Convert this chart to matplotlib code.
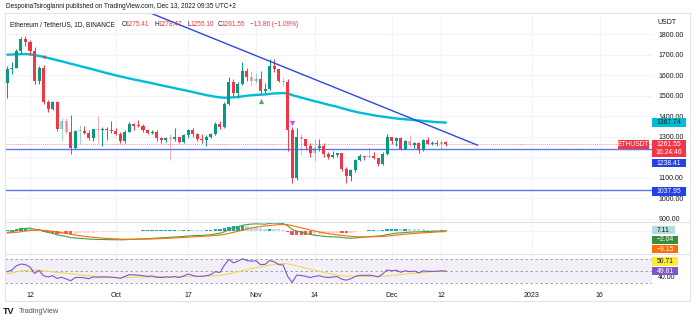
import matplotlib
matplotlib.use('Agg')
import matplotlib.pyplot as plt
import matplotlib.dates as mdates
from matplotlib.patches import Rectangle
import pandas as pd

plt.rcParams['font.family'] = ['Liberation Sans', 'DejaVu Sans']
plt.rcParams['axes.unicode_minus'] = True

# ---------------- data ----------------
dates = pd.date_range('2022-09-07', '2022-12-13', freq='D')
opens = [1562, 1629, 1635, 1718, 1775, 1762, 1715, 1572, 1636, 1470, 1432, 1470, 1335, 1377, 1324, 1245, 1327, 1328, 1317, 1294,
         1335, 1330, 1336, 1334, 1327, 1311, 1276, 1323, 1362, 1352, 1351, 1332, 1316, 1322, 1291, 1281, 1294, 1288, 1296, 1275,
         1306, 1332, 1311, 1286, 1283, 1299, 1314, 1363, 1345, 1458, 1567, 1514, 1555, 1618, 1588, 1573, 1579, 1521, 1531, 1645,
         1627, 1572, 1568, 1333, 1100, 1299, 1287, 1256, 1219, 1242, 1253, 1216, 1201, 1211, 1218, 1141, 1108, 1135, 1183, 1203,
         1199, 1206, 1194, 1166, 1217, 1296, 1276, 1293, 1241, 1280, 1258, 1270, 1232, 1281, 1264, 1266, 1263, 1275.41]
highs = [1645, 1662, 1725, 1785, 1790, 1770, 1735, 1645, 1650, 1480, 1475, 1472, 1390, 1390, 1403, 1330, 1355, 1350, 1330, 1338,
         1400, 1348, 1345, 1375, 1340, 1320, 1330, 1370, 1366, 1380, 1360, 1338, 1330, 1330, 1300, 1300, 1310, 1340, 1300, 1310,
         1338, 1340, 1315, 1310, 1305, 1317, 1370, 1375, 1470, 1590, 1580, 1565, 1665, 1635, 1620, 1610, 1620, 1560, 1680, 1680,
         1630, 1590, 1580, 1345, 1340, 1310, 1290, 1270, 1290, 1290, 1270, 1225, 1230, 1222, 1222, 1150, 1140, 1190, 1215, 1205,
         1250, 1225, 1195, 1225, 1310, 1300, 1298, 1300, 1285, 1305, 1275, 1275, 1290, 1300, 1280, 1285, 1282, 1278.47]
lows = [1490, 1605, 1632, 1705, 1740, 1700, 1556, 1555, 1460, 1420, 1428, 1328, 1280, 1310, 1216, 1240, 1265, 1310, 1285, 1280,
        1270, 1255, 1285, 1315, 1305, 1268, 1270, 1320, 1330, 1345, 1320, 1310, 1310, 1280, 1266, 1275, 1187, 1280, 1270, 1270,
        1295, 1300, 1280, 1270, 1255, 1295, 1305, 1335, 1340, 1455, 1500, 1490, 1550, 1570, 1550, 1560, 1505, 1510, 1528, 1615,
        1565, 1545, 1230, 1073, 1090, 1210, 1235, 1200, 1180, 1230, 1200, 1190, 1195, 1200, 1130, 1075, 1082, 1125, 1180, 1185,
        1195, 1190, 1155, 1160, 1212, 1265, 1256, 1236, 1238, 1250, 1245, 1220, 1228, 1262, 1260, 1255, 1240, 1255.10]
closes = [1629, 1635, 1718, 1775, 1762, 1715, 1572, 1636, 1470, 1432, 1470, 1335, 1377, 1324, 1245, 1327, 1328, 1317, 1294, 1335,
          1330, 1336, 1334, 1327, 1311, 1276, 1323, 1362, 1352, 1351, 1332, 1316, 1322, 1291, 1281, 1294, 1288, 1296, 1275, 1306,
          1332, 1311, 1286, 1283, 1299, 1314, 1363, 1345, 1458, 1567, 1514, 1555, 1618, 1588, 1573, 1579, 1521, 1531, 1645, 1627,
          1572, 1568, 1333, 1100, 1299, 1287, 1256, 1219, 1242, 1253, 1216, 1201, 1211, 1218, 1141, 1108, 1135, 1183, 1203, 1199,
          1206, 1194, 1166, 1217, 1296, 1276, 1293, 1241, 1280, 1258, 1270, 1232, 1281, 1264, 1266, 1263, 1275, 1261.55]
faded_dates = ['2022-09-19', '2022-09-20', '2022-09-23', '2022-09-27', '2022-10-13', '2022-10-31', '2022-11-01',
               '2022-11-07', '2022-11-11', '2022-11-14', '2022-11-26', '2022-12-05', '2022-12-12']

ma_values = [1699, 1700, 1701, 1702, 1702, 1701, 1697, 1693, 1688, 1683, 1678, 1672, 1667, 1661, 1655, 1650, 1644, 1638, 1633, 1627,
             1621, 1615, 1609, 1604, 1598, 1593, 1588, 1583, 1578, 1574, 1569, 1565, 1560, 1555, 1550, 1545, 1541, 1536, 1531, 1527,
             1522, 1517, 1512, 1507, 1502, 1498, 1494, 1491, 1489, 1490, 1491, 1493, 1496, 1499, 1501, 1503, 1504, 1505, 1508, 1510,
             1511, 1512, 1510, 1502, 1496, 1490, 1484, 1478, 1472, 1467, 1461, 1455, 1450, 1445, 1438, 1432, 1426, 1421, 1416, 1412,
             1408, 1404, 1400, 1397, 1394, 1391, 1388, 1386, 1384, 1382, 1380, 1378, 1376, 1374, 1372, 1370, 1369, 1367.74]

macd_line = [-20, -10, 0, 15, 25, 28, 15, 10, -5, -20, -28, -45, -52, -62, -75, -78, -82, -86, -90, -92,
             -94, -95, -96, -97, -97, -98, -97, -94, -92, -90, -88, -86, -84, -80, -77, -74, -71, -68, -66, -62,
             -57, -54, -52, -50, -47, -44, -35, -28, -12, 12, 28, 42, 58, 66, 71, 74, 72, 70, 78, 82,
             80, 77, 53, 13, -3, -16, -28, -41, -49, -54, -60, -65, -67, -67, -73, -79, -81, -78, -73, -69,
             -64, -60, -59, -53, -42, -34, -26, -24, -19, -16, -13, -13, -10, -8, -6.5, -5.5, -3.5, -2.04]
signal_line = [-25, -22, -17.6, -11.1, -3.9, 2.5, 5, 6, 3.8, -1, -6.4, -14.1, -21.7, -29.8, -38.8, -46.6, -53.7, -60.2, -66.2, -71.3,
               -75.8, -79.6, -82.9, -85.7, -88, -90, -91.4, -91.9, -91.9, -91.5, -90.8, -89.8, -88.6, -86.9, -84.9, -82.7, -80.4, -77.9, -75.5, -72.8,
               -69.6, -66.5, -63.6, -60.9, -58.1, -55.3, -51.2, -46.6, -39.7, -29.4, -17.9, -5.9, 6.9, 18.7, 29.2, 38.2, 45, 50, 55.6, 60.9,
               64.7, 67.2, 64.4, 54.1, 42.7, 31, 19.2, 7.2, -4, -14, -23.2, -31.6, -38.7, -44.4, -50.1, -55.9, -60.9, -64.3, -66, -66.6,
               -66.1, -64.9, -63.7, -61.6, -57.7, -53, -47.6, -42.9, -38.1, -33.7, -29.6, -26.3, -23, -20, -17.3, -13.5, -11.5, -9.15]

rsi_values = [49, 52, 59, 62, 61, 57, 46, 51, 42, 40, 42, 37.5, 39.5, 36.5, 33.5, 39, 39, 38.5, 37, 40,
              39.5, 40, 40, 39.5, 39, 37.5, 41, 44, 43.5, 43, 42, 41, 41.5, 39.5, 39, 40, 39.5, 40.5, 39, 41.5,
              45, 42.5, 41, 41, 42, 44, 49, 47.5, 60, 70, 64, 67, 71, 68, 67, 67.5, 61, 61.5, 68, 66,
              61, 60.5, 41, 30.5, 43, 42.5, 41, 39, 41, 42, 40, 39, 40, 40.5, 36, 34.5, 37, 41, 43, 42.5,
              43, 42, 40, 45, 52, 50.5, 51.5, 48, 50.5, 49, 50, 47, 50.5, 49.5, 49.5, 49.5, 50.5, 49.81]
rsi_ma = [46, 47, 48.5, 50, 51, 52, 51.5, 51.5, 50.5, 49.5, 48.5, 47.5, 47, 46, 45.5, 44.5, 43.5, 42.5, 42, 41.5,
          41, 40, 39.5, 39.3, 39, 38.8, 39, 39.3, 39.6, 39.8, 40, 40, 40.2, 40.4, 40.5, 40.5, 40.6, 40.8, 40.8, 40.8,
          41, 41, 41, 41, 41.2, 41.5, 42, 42.5, 43.8, 45.5, 47, 48.8, 50.8, 52.6, 54.3, 56, 57.3, 58.6, 60.2, 61.7,
          62.7, 63, 62.3, 60.5, 59, 57, 55, 53, 51.5, 49.5, 47.5, 46, 44.5, 43, 42, 41.3, 41.3, 41, 40.8, 40.7,
          40.8, 40.8, 40.8, 41, 41.8, 42.5, 43.3, 44, 44.8, 45.6, 46.3, 46.8, 47.5, 48.3, 48.9, 49.5, 50.2, 50.71]

trend_dates = ['2022-10-08', '2022-12-20']
trend_prices = [1908, 1258]
support_levels = [1238.41, 1037.95]
last_price = 1261.55
marker_up = ('2022-11-02', 1475)
marker_down = ('2022-11-09', 1367)
marker_small = ('2022-09-15', 1688)

price_ticks = [900, 1000, 1100, 1200, 1300, 1400, 1500, 1600, 1700, 1800]
hidden_price_labels = [1200]   # covered by the price badges in the reference
rsi_ticks = [40]
time_ticks = ['2022-09-12', '2022-10-01', '2022-10-17', '2022-11-01', '2022-11-14',
              '2022-12-01', '2022-12-12', '2023-01-01', '2023-01-16']
time_labels = ['12', 'Oct', '17', 'Nov', '14', 'Dec', '12', '2023', '16']

# ---------------- layout ----------------
W, H = 696, 322
fig = plt.figure(figsize=(W / 100, H / 100), dpi=100)
fig.patch.set_facecolor('white')


def fr(x0, y0, x1, y1):
    return [x0 / W, 1 - y1 / H, (x1 - x0) / W, (y1 - y0) / H]


ax = fig.add_axes(fr(5, 14, 652, 222))
axm = fig.add_axes(fr(5, 222, 652, 253))
axr = fig.add_axes(fr(5, 253, 652, 285))

GREEN = '#089981'
RED = '#F23645'
GRID = '#F0F3FA'
TXT = '#131722'

x = mdates.date2num(dates)
ref = mdates.date2num(pd.Timestamp('2022-09-12'))
xlim = (ref - 25 / 4.52, ref + 622 / 4.52)
tnum = mdates.date2num(pd.to_datetime(time_ticks))

for a in (ax, axm, axr):
    a.set_xlim(*xlim)
    for s in a.spines.values():
        s.set_visible(False)
    a.set_xticks(tnum)
    a.grid(axis='x', color=GRID, lw=0.8)
    a.set_axisbelow(True)
    a.tick_params(axis='x', length=0, labelbottom=False)
    a.yaxis.tick_right()
    a.tick_params(axis='y', length=0, pad=4.5, labelsize=5, labelcolor=TXT)

# ---- main pane ----
ax.set_ylim(883, 1897.6)
ax.set_yticks(price_ticks)
ax.set_yticklabels(['' if v in hidden_price_labels else f'{v:.2f}' for v in price_ticks])
ax.grid(axis='y', color=GRID, lw=0.8)

faded = set(pd.to_datetime(faded_dates))
for i in range(len(dates)):
    o, h, l, c = opens[i], highs[i], lows[i], closes[i]
    col = GREEN if c >= o else RED
    alpha = 0.4 if dates[i] in faded else 1.0
    ax.vlines(x[i], l, h, color=col, lw=0.7, alpha=alpha, zorder=3)
    ax.bar(x[i], max(abs(c - o), 3), bottom=min(o, c), width=0.68, color=col, alpha=alpha, zorder=3)

ax.plot(x, ma_values, color='#00BCD4', lw=1.7, zorder=2.5, solid_capstyle='round')
ax.plot(mdates.date2num(pd.to_datetime(trend_dates)), trend_prices, color='#2D47E6', lw=1.0, zorder=4)
for lv in support_levels:
    ax.axhline(lv, color='#5A78F0', lw=1.0, zorder=2)
ax.axhline(last_price, color=RED, lw=0.6, ls=(0, (1, 1.5)), alpha=0.7, zorder=2)

ax.scatter([mdates.date2num(pd.Timestamp(marker_up[0]))], [marker_up[1]], marker='^', s=14, color='#4CAF50', zorder=5, lw=0)
ax.scatter([mdates.date2num(pd.Timestamp(marker_down[0]))], [marker_down[1]], marker='v', s=14, color='#E040FB', zorder=5, lw=0)
ax.scatter([mdates.date2num(pd.Timestamp(marker_small[0]))], [marker_small[1]], marker='v', s=7, color=RED, zorder=2.8, lw=0)

# ---- MACD pane ----
axm.set_ylim(-240, 93.5)
axm.set_yticks([])
axm.axhline(0, color=GRID, lw=0.8, zorder=0)
hist = [m - s for m, s in zip(macd_line, signal_line)]
hcols = []
for i, hv in enumerate(hist):
    prev = hist[i - 1] if i > 0 else hv
    if hv >= 0:
        hcols.append('#26A69A' if hv >= prev else '#B2DFDB')
    else:
        hcols.append('#FF5252' if hv <= prev else '#FFCDD2')
axm.bar(x, hist, width=0.75, color=hcols, zorder=2)
axm.plot(x, macd_line, color='#43A047', lw=0.8, zorder=3)
axm.plot(x, signal_line, color='#FF6D00', lw=0.8, zorder=3)

# ---- RSI pane ----
axr.set_ylim(26.2, 80.9)
axr.set_yticks(rsi_ticks)
axr.set_yticklabels([f'{v:.2f}' for v in rsi_ticks])
axr.axhspan(30, 70, color='#7E57C2', alpha=0.09, lw=0, zorder=0)
for lv in (70, 50, 30):
    axr.axhline(lv, color='#9598A1', lw=0.6, ls=(0, (3, 3)), zorder=1)
axr.plot(x, rsi_ma, color='#F5D94A', lw=0.8, zorder=2)
axr.plot(x, rsi_values, color='#7E57C2', lw=0.8, zorder=3)
axr.tick_params(axis='x', labelbottom=True, labelsize=5, labelcolor=TXT, pad=5)
axr.set_xticklabels(time_labels)

# ---------------- overlay: frame, badges, header ----------------
ov = fig.add_axes([0, 0, 1, 1], zorder=20)
ov.set_xlim(0, W)
ov.set_ylim(H, 0)
ov.axis('off')
ov.patch.set_alpha(0)

ov.add_patch(Rectangle((5, 13), 685, 288, fill=False, ec='#E0E3EB', lw=0.8))
for yy in (222, 253.5):
    ov.plot([5, 690], [yy, yy], color='#E0E3EB', lw=0.8)


def ypx(a, v):
    return H - a.transData.transform((0, v))[1]


def badge(yc, text, fc, tc, x0=652, x1=686, h=8.6, fs=4.9):
    ov.add_patch(Rectangle((x0, yc - h / 2), x1 - x0, h, fc=fc, ec='none', zorder=5))
    ov.text((x0 + x1) / 2, yc, text, ha='center', va='center', fontsize=fs, color=tc, zorder=6)


ov.text(657, 22, 'USDT', fontsize=5, color=TXT, va='center')
badge(ypx(ax, ma_values[-1]), f'{ma_values[-1]:.2f}', '#00BCD4', TXT)
yl = ypx(ax, last_price)
ov.add_patch(Rectangle((652, yl - 4.5), 34, 17, fc=RED, ec='none', zorder=5))
ov.text(669, yl, f'{last_price:.2f}', ha='center', va='center', fontsize=4.9, color='white', zorder=6)
ov.text(669, yl + 8, '16:24:46', ha='center', va='center', fontsize=4.9, color='white', zorder=6)
badge(yl, 'ETHUSDT', RED, 'white', x0=618, x1=649)
badge(ypx(ax, support_levels[0]) + 14, f'{support_levels[0]:.2f}', '#2441E3', 'white')
badge(ypx(ax, support_levels[1]) + 1, f'{support_levels[1]:.2f}', '#2441E3', 'white')

badge(ypx(axm, hist[-1]), f'{hist[-1]:.2f}', '#B2DFDB', TXT, x1=675)
badge(ypx(axm, macd_line[-1]) + 9, f'{macd_line[-1]:.2f}'.replace('-', '\u2212'), '#388E3C', 'white', x1=678)
badge(ypx(axm, signal_line[-1]) + 17.5, f'{signal_line[-1]:.2f}'.replace('-', '\u2212'), '#FF6D00', 'white', x1=678)
badge(ypx(axr, rsi_ma[-1]) - 9.2, f'{rsi_ma[-1]:.2f}', '#FFEB3B', TXT, x1=678)
badge(ypx(axr, rsi_values[-1]), f'{rsi_values[-1]:.2f}', '#7E57C2', 'white', x1=678)

ov.text(6, 6, 'DespoinaTsiroglanni published on TradingView.com, Dec 13, 2022 09:35 UTC+2',
        fontsize=4.7, color=TXT, va='center')
ov.text(10, 24.5, 'Ethereum / TetherUS, 1D, BINANCE', fontsize=4.7, color=TXT, va='center')
ohlc_labels = [('O', opens[-1], 122), ('H', highs[-1], 154.5), ('L', lows[-1], 187), ('C', closes[-1], 218)]
for lab, val, xx in ohlc_labels:
    ov.text(xx, 24.5, lab, fontsize=4.7, color=TXT, va='center')
    ov.text(xx + 4.0, 24.5, f'{val:.2f}', fontsize=4.7, color=RED, va='center')
chg = closes[-1] - opens[-1]
ov.text(250, 24.5, f'{chg:.2f} ({chg / opens[-1] * 100:.2f}%)'.replace('-', '\u2212'),
        fontsize=4.7, color=RED, va='center')

ov.text(3, 311.5, 'TV', fontsize=6.5, fontweight='bold', color=TXT, va='center')
ov.text(19, 311.5, 'TradingView', fontsize=5.3, color='#50535E', va='center')

fig.savefig('out.png', dpi=100, facecolor='white')
